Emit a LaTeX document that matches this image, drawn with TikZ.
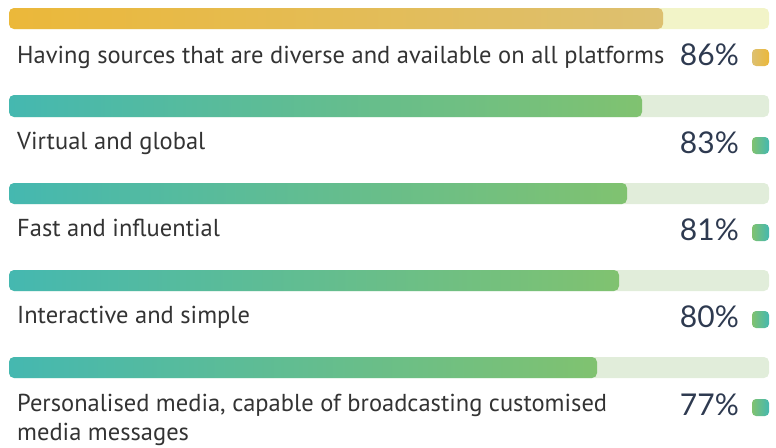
\documentclass[tikz,border=0pt]{standalone}
\usepackage{fontspec}
\setmainfont{PT Sans}
\newfontfamily\pctfont{Lato}
\definecolor{ylA}{HTML}{EBB83A}
\definecolor{ylB}{HTML}{DDC070}
\definecolor{yltrack}{HTML}{F2F4C8}
\definecolor{gnA}{HTML}{45B8B0}
\definecolor{gnB}{HTML}{80C270}
\definecolor{gntrack}{HTML}{E1EDDA}
\definecolor{lbl}{HTML}{333333}
\definecolor{pct}{HTML}{2E3A50}
\tikzset{
  lbltext/.style={anchor=base west, inner sep=0pt, text=lbl, font=\fontsize{24.5}{29}\selectfont, align=left},
  pcttext/.style={anchor=base east, inner sep=0pt, text=pct, font=\pctfont\fontsize{30}{32}\selectfont},
  trackbar/.style={rounded corners=5pt},
  dotbox/.style={rounded corners=4pt},
}
\begin{document}
\begin{tikzpicture}[x=1pt,y=1pt]
\useasboundingbox (0,0) rectangle (776,-447);
% row 1
\fill[yltrack, trackbar] (9,-8) rectangle (769,-29);
\shade[left color=ylA, right color=ylB, trackbar] (9,-8) rectangle (663,-29);
\node[lbltext] (l1) at (17,-63) {Having sources that are diverse and available on all platforms};
\node[pcttext] (p1) at (739,-65) {86\%};
\shade[left color=ylB, right color=ylA, dotbox] (752,-49) rectangle (769,-66);
% row 2
\fill[gntrack, trackbar] (9,-95) rectangle (769,-117);
\shade[left color=gnA, right color=gnB, trackbar] (9,-95) rectangle (642,-117);
\node[lbltext] (l2) at (17,-149) {Virtual and global};
\node[pcttext] (p2) at (739,-153) {83\%};
\shade[left color=gnB, right color=gnA, dotbox] (752,-137) rectangle (769,-154);
% row 3
\fill[gntrack, trackbar] (9,-183) rectangle (769,-204);
\shade[left color=gnA, right color=gnB, trackbar] (9,-183) rectangle (627,-204);
\node[lbltext] (l3) at (17,-236) {Fast and influential};
\node[pcttext] (p3) at (739,-240) {81\%};
\shade[left color=gnB, right color=gnA, dotbox] (752,-224) rectangle (769,-241);
% row 4
\fill[gntrack, trackbar] (9,-270) rectangle (769,-291);
\shade[left color=gnA, right color=gnB, trackbar] (9,-270) rectangle (619,-291);
\node[lbltext] (l4) at (17,-323) {Interactive and simple};
\node[pcttext] (p4) at (739,-327) {80\%};
\shade[left color=gnB, right color=gnA, dotbox] (752,-311) rectangle (769,-328);
% row 5
\fill[gntrack, trackbar] (9,-357) rectangle (769,-378);
\shade[left color=gnA, right color=gnB, trackbar] (9,-357) rectangle (597,-378);
\node[lbltext] (l5) at (17,-440) {Personalised media, capable of broadcasting customised\\media messages};
\node[pcttext] (p5) at (739,-415) {77\%};
\shade[left color=gnB, right color=gnA, dotbox] (752,-399) rectangle (769,-416);
\end{tikzpicture}
\end{document}
